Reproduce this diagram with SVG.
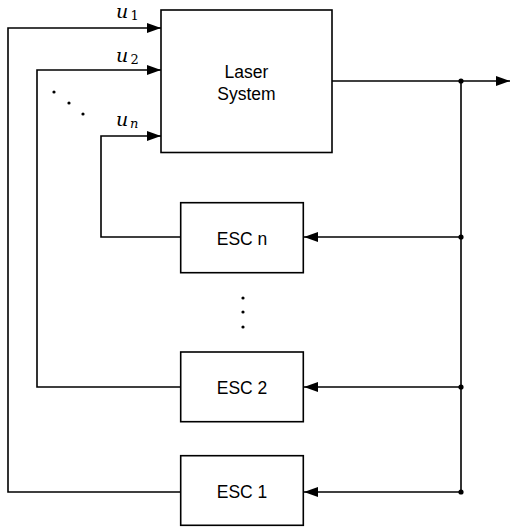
<svg xmlns="http://www.w3.org/2000/svg" width="510" height="529" viewBox="0 0 510 529">
<style>
.box{fill:#fff;stroke:#000;stroke-width:1.6}
.ln{fill:none;stroke:#000;stroke-width:1.6}
.t{font-family:"Liberation Sans",Arial,sans-serif;font-size:17.5px;text-anchor:middle;fill:#000}
.m{font-family:"DejaVu Serif",serif;font-style:italic;font-size:19px;fill:#000}
.s{font-family:"DejaVu Serif",serif;font-size:13px;fill:#000}
.si{font-family:"DejaVu Serif",serif;font-style:italic;font-size:13px;fill:#000}
</style>
<defs>
<marker id="ah" markerWidth="14" markerHeight="10" refX="14" refY="5" orient="auto" markerUnits="userSpaceOnUse">
<path d="M0,0 L14,5 L0,10 Z" fill="#000"/>
</marker>
</defs>
<g id="connectors">
<path class="ln" d="M180,492 H8 V28 H161" marker-end="url(#ah)"/>
<path class="ln" d="M180,387 H37 V70 H161" marker-end="url(#ah)"/>
<path class="ln" d="M180,237 H101 V136 H161" marker-end="url(#ah)"/>
<path class="ln" d="M332,81 H510" marker-end="url(#ah)"/>
<path class="ln" d="M461,81 V492"/>
<path class="ln" d="M461,237 H304" marker-end="url(#ah)"/>
<path class="ln" d="M461,387 H304" marker-end="url(#ah)"/>
<path class="ln" d="M461,492 H304" marker-end="url(#ah)"/>
<circle cx="461" cy="81" r="2.6"/>
<circle cx="461" cy="237" r="2.6"/>
<circle cx="461" cy="387" r="2.6"/>
<circle cx="461" cy="492" r="2.6"/>
</g>
<g id="laser">
<rect class="box" x="161" y="10" width="171" height="142.5"/>
<text class="t" x="246.5" y="78">Laser</text>
<text class="t" x="246.5" y="100">System</text>
</g>
<g id="escn">
<rect class="box" x="180.7" y="202.7" width="122.6" height="70"/>
<text class="t" x="242" y="245">ESC n</text>
</g>
<g id="esc2">
<rect class="box" x="180.7" y="352" width="122.6" height="69.7"/>
<text class="t" x="242" y="394">ESC 2</text>
</g>
<g id="esc1">
<rect class="box" x="180.7" y="455.7" width="122.6" height="69.6"/>
<text class="t" x="242" y="498">ESC 1</text>
</g>
<g id="labels">
<text class="m" x="116" y="18">u</text><text class="s" x="130.5" y="20">1</text>
<text class="m" x="116" y="62">u</text><text class="s" x="130.5" y="64">2</text>
<text class="m" x="116" y="126">u</text><text class="si" x="130" y="128">n</text>
<circle cx="54" cy="92" r="1.6"/>
<circle cx="69" cy="103" r="1.6"/>
<circle cx="83" cy="114" r="1.6"/>
<circle cx="243" cy="298" r="1.6"/>
<circle cx="243" cy="312" r="1.6"/>
<circle cx="243" cy="327" r="1.6"/>
</g>
</svg>
